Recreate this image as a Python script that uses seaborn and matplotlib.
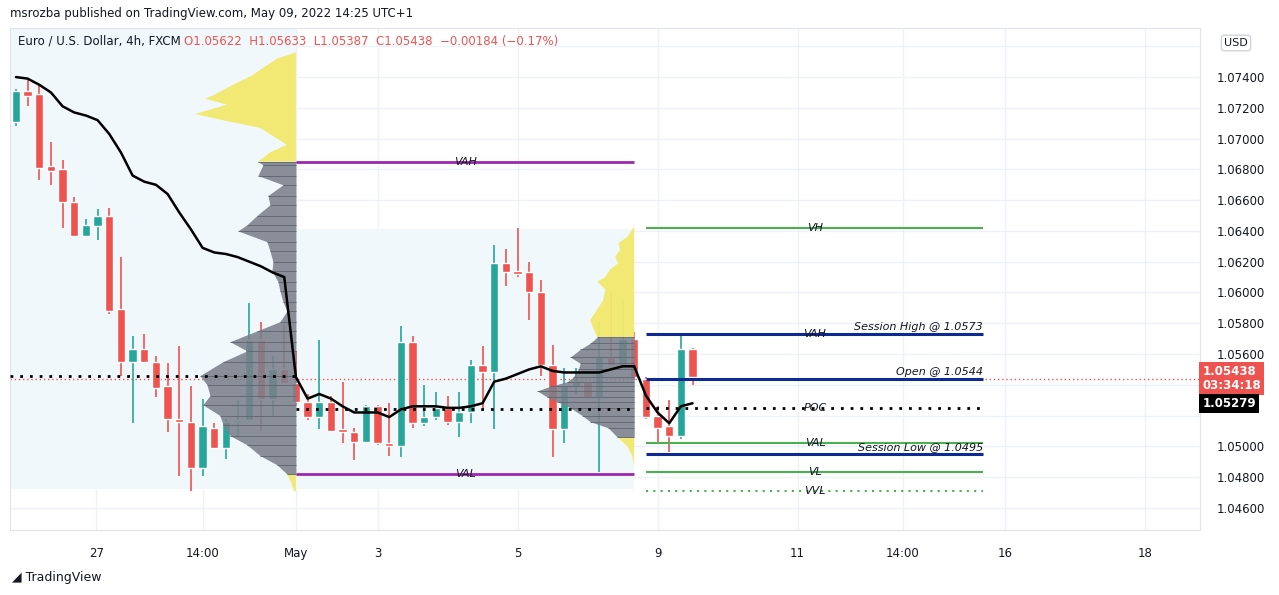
import matplotlib
matplotlib.use("Agg")
import matplotlib.pyplot as plt
import numpy as np
import pandas as pd
import seaborn as sns

# ---- data ----
opens = [1.0711, 1.0731, 1.0729, 1.0682, 1.0680, 1.0659, 1.0637, 1.0643, 1.0650, 1.0589,
         1.0555, 1.0563, 1.0555, 1.0539, 1.0518, 1.0516, 1.0486, 1.0512, 1.0499, 1.0516,
         1.0517, 1.0569, 1.0531, 1.0550, 1.0541, 1.0529, 1.0519, 1.0529, 1.0511, 1.0509,
         1.0503, 1.0526, 1.0502, 1.0500, 1.0568, 1.0515, 1.0519, 1.0525, 1.0516, 1.0522,
         1.0553, 1.0548, 1.0619, 1.0614, 1.0613, 1.0600, 1.0553, 1.0511, 1.0539, 1.0542,
         1.0532, 1.0558, 1.0553, 1.0570, 1.0544, 1.0520, 1.0513, 1.0507, 1.0563]
highs = [1.0732, 1.0739, 1.0735, 1.0698, 1.0686, 1.0662, 1.0648, 1.0654, 1.0655, 1.0623,
         1.0572, 1.0573, 1.0559, 1.0554, 1.0565, 1.0539, 1.0531, 1.0515, 1.0518, 1.0530,
         1.0593, 1.0581, 1.0559, 1.0579, 1.0562, 1.0534, 1.0569, 1.0533, 1.0542, 1.0512,
         1.0527, 1.0527, 1.0528, 1.0578, 1.0572, 1.0540, 1.0535, 1.0533, 1.0535, 1.0556,
         1.0565, 1.0631, 1.0628, 1.0642, 1.0620, 1.0608, 1.0566, 1.0551, 1.0551, 1.0542,
         1.0581, 1.0599, 1.0596, 1.0574, 1.0545, 1.0526, 1.0530, 1.0573, 1.0564]
lows = [1.0708, 1.0721, 1.0673, 1.0670, 1.0642, 1.0636, 1.0636, 1.0634, 1.0586, 1.0546,
        1.0515, 1.0554, 1.0532, 1.0509, 1.0481, 1.0471, 1.0481, 1.0498, 1.0492, 1.0506,
        1.0517, 1.0510, 1.0519, 1.0541, 1.0527, 1.0517, 1.0511, 1.0509, 1.0502, 1.0491,
        1.0502, 1.0501, 1.0494, 1.0493, 1.0512, 1.0513, 1.0517, 1.0514, 1.0506, 1.0515,
        1.0525, 1.0511, 1.0604, 1.0610, 1.0582, 1.0546, 1.0493, 1.0502, 1.0534, 1.0532,
        1.0483, 1.0553, 1.0553, 1.0543, 1.0518, 1.0503, 1.0496, 1.0505, 1.0540]
closes = [1.0731, 1.0728, 1.0681, 1.0679, 1.0659, 1.0637, 1.0644, 1.0650, 1.0588, 1.0555,
          1.0563, 1.0555, 1.0538, 1.0518, 1.0516, 1.0486, 1.0513, 1.0499, 1.0516, 1.0517,
          1.0569, 1.0531, 1.0550, 1.0541, 1.0529, 1.0519, 1.0529, 1.0510, 1.0509, 1.0503,
          1.0526, 1.0502, 1.0500, 1.0568, 1.0515, 1.0519, 1.0525, 1.0516, 1.0522, 1.0553,
          1.0548, 1.0619, 1.0613, 1.0612, 1.0600, 1.0553, 1.0511, 1.0540, 1.0542, 1.0532,
          1.0558, 1.0553, 1.0570, 1.0545, 1.0519, 1.0512, 1.0507, 1.0563, 1.0545]
vwap = [1.0740, 1.0739, 1.0735, 1.0730, 1.0721, 1.0717, 1.0715, 1.0712, 1.0703, 1.0691,
        1.0676, 1.0672, 1.0670, 1.0664, 1.0652, 1.0641, 1.0629, 1.0626, 1.0625, 1.0623,
        1.0620, 1.0617, 1.0613, 1.0610, 1.0545, 1.0531, 1.0534, 1.0531, 1.0526, 1.0522,
        1.0522, 1.0522, 1.0519, 1.0524, 1.0526, 1.0526, 1.0526, 1.0525, 1.0525, 1.0526,
        1.0528, 1.0542, 1.0544, 1.0547, 1.0550, 1.0552, 1.0549, 1.0548, 1.0548, 1.0548,
        1.0548, 1.0550, 1.0552, 1.0552, 1.0533, 1.0522, 1.0515, 1.0526, 1.0528]

prof1_price = [1.0756, 1.0752, 1.0746, 1.0741, 1.0735, 1.0728, 1.0726, 1.0722, 1.0716, 1.0711,
               1.0707, 1.0700, 1.0696, 1.0691, 1.0685, 1.0683, 1.0676, 1.0670, 1.0663, 1.0657,
               1.0650, 1.0644, 1.0640, 1.0633, 1.0627, 1.0620, 1.0614, 1.0607, 1.0601, 1.0594,
               1.0588, 1.0581, 1.0575, 1.0568, 1.0562, 1.0555, 1.0546, 1.0540, 1.0533, 1.0527,
               1.0520, 1.0514, 1.0507, 1.0501, 1.0494, 1.0488, 1.0482, 1.0477, 1.0471]
prof1_vol = [0, 19, 33, 44, 63, 83, 91, 69, 101, 66, 36, 19, 9, 26, 38, 33, 38, 13, 28, 26,
             39, 49, 58, 29, 26, 23, 24, 18, 16, 13, 9, 16, 39, 66, 49, 73, 96, 89, 86, 93,
             76, 73, 66, 49, 36, 19, 9, 5, 2]
prof1_vah, prof1_val = 1.0685, 1.0482

prof2_price = [1.0643, 1.0641, 1.0636, 1.0632, 1.0628, 1.0623, 1.0619, 1.0615, 1.0610, 1.0607,
               1.0602, 1.0595, 1.0589, 1.0582, 1.0578, 1.0571, 1.0567, 1.0563, 1.0558, 1.0554,
               1.0550, 1.0545, 1.0542, 1.0539, 1.0536, 1.0532, 1.0529, 1.0525, 1.0520, 1.0516,
               1.0512, 1.0506, 1.0500, 1.0494, 1.0487]
prof2_vol = [0, 2, 7, 16, 14, 19, 16, 24, 29, 37, 29, 31, 37, 44, 42, 37, 44, 54, 64, 54,
             56, 61, 67, 84, 97, 87, 77, 64, 52, 44, 26, 17, 7, 2, 0]
prof2_vah, prof2_val = 1.0574, 1.0503

poc1, poc2, poc3 = 1.0546, 1.0524, 1.0525
vah3, vh, val3, vl, vvl = 1.0573, 1.0642, 1.0502, 1.0483, 1.0471
sess_high, sess_open, sess_low = 1.0573, 1.0544, 1.0495
last_price = 1.05438

date_labels = ["27", "14:00", "May", "3", "5", "9", "11", "14:00", "16", "18"]
date_pos = [6.9, 16.0, 24.0, 31.0, 43.0, 55.0, 67.0, 76.0, 84.8, 96.8]
price_ticks = [1.046, 1.048, 1.050, 1.052, 1.054, 1.056, 1.058, 1.060, 1.062,
               1.064, 1.066, 1.068, 1.070, 1.072, 1.074, 1.076]

GREEN, RED = "#26a69a", "#ef5350"
YEL, GRAY = "#f2e96c", "#7b808b"
BLUE_BG = "#f0f8fc"

sns.set_style("white")
fig = plt.figure(figsize=(12.79, 5.95), dpi=100)
ax = fig.add_axes([10 / 1279, 65 / 595, 1190 / 1279, 502 / 595])
ax.set_xlim(-0.51, 101.5)
ax.set_ylim(1.04456, 1.07719)

for p in price_ticks:
    ax.axhline(p, color="#eef1f6", lw=1, zorder=0)
for d in date_pos:
    ax.axvline(d, color="#eef1f6", lw=1, zorder=0)

# session backgrounds
ax.fill_between([-0.51, 24.0], 1.0472, 1.07719, color=BLUE_BG, zorder=0.5, lw=0)
ax.fill_between([24.0, 53.0], 1.0472, 1.0641, color=BLUE_BG, zorder=0.5, lw=0)

# candles
df = pd.DataFrame({"o": opens, "h": highs, "l": lows, "c": closes})
df["i"] = np.arange(len(df))
for _, r in df.iterrows():
    col = GREEN if r.c >= r.o else RED
    ax.vlines(r.i, r.l, r.h, color=col, lw=1.2, zorder=2)
    ax.bar(r.i, abs(r.c - r.o) or 0.00006, bottom=min(r.o, r.c), width=0.72,
           color=col, zorder=2)

# volume profiles (right-aligned, width in bars)
def profile(prices, vols, right, maxw, vah, val):
    p = np.array(prices)
    w = np.array(vols) / max(vols) * maxw
    inside = (p >= val) & (p <= vah)
    outside = ~inside
    # extend yellow by one row so both colours meet at the value-area edges
    out_ext = outside | np.r_[outside[1:], False] | np.r_[False, outside[:-1]]
    ax.fill_betweenx(p, right - w, right, where=out_ext, color=YEL, alpha=0.95,
                     lw=0, zorder=3)
    ax.fill_betweenx(p, right - w, right, where=inside, color=GRAY, alpha=0.88,
                     lw=0, zorder=3.05)
    for pp, ww in zip(p[inside], w[inside]):
        ax.hlines(pp, right - ww, right, color="#60646e", lw=0.6, zorder=3.1)

profile(prof1_price, prof1_vol, 24.0, 101 / 11.67, prof1_vah, prof1_val)
profile(prof2_price, prof2_vol, 53.0, 97 / 11.67, prof2_vah, prof2_val)

# vwap line
sns.lineplot(x=np.arange(len(vwap)), y=vwap, color="black", lw=1.8, ax=ax, zorder=4)

# session levels
ax.hlines([prof1_vah, prof1_val], 24.0, 53.0, color="#9c27b0", lw=2, zorder=4)
ax.hlines(poc1, -0.51, 24.0, color="black", lw=2, linestyles=(0, (1, 2.5)), zorder=4)
ax.hlines(poc2, 24.0, 53.0, color="black", lw=2, linestyles=(0, (1, 2.5)), zorder=4)
ax.axhline(last_price, color=RED, lw=1, ls=(0, (1, 2)), zorder=1.5)

x0, x1, xm = 54.0, 82.9, 68.5
ax.hlines([vh, val3, vl], x0, x1, color="#4caf50", lw=1.5, zorder=4)
ax.hlines(vvl, x0, x1, color="#4caf50", lw=1.5, linestyles=(0, (1, 2.5)), zorder=4)
ax.hlines([sess_high, sess_open, sess_low], x0, x1, color="#0d2a94", lw=2.2, zorder=4)
ax.hlines(poc3, x0, x1, color="black", lw=2, linestyles=(0, (1, 2.5)), zorder=4)

lab = dict(fontsize=8, style="italic", color="#131722", ha="center", va="center", zorder=6)
ax.text((24 + 53) / 2, prof1_vah, "VAH", **lab)
ax.text((24 + 53) / 2, prof1_val, "VAL", **lab)
for p, t in [(vh, "VH"), (vah3, "VAH"), (poc3, "POC"), (val3, "VAL"), (vl, "VL"), (vvl, "VVL")]:
    ax.text(xm, p, t, **lab)
lab.update(ha="right", va="bottom")
ax.text(x1, sess_high + 0.0001, "Session High @ 1.0573", **lab)
ax.text(x1, sess_open + 0.0001, "Open @ 1.0544", **lab)
ax.text(x1, sess_low + 0.0001, "Session Low @ 1.0495", **lab)

# axes styling
ax.yaxis.tick_right()
ax.set_yticks(price_ticks)
ax.set_yticklabels(["" if p in (1.052, 1.054, 1.076) else f"{p:.5f}" for p in price_ticks],
                   fontsize=8.5, color="#131722")
ax.set_xticks(date_pos)
ax.set_xticklabels(date_labels, fontsize=8.5, color="#131722")
ax.tick_params(length=0, pad=12)
for s in ax.spines.values():
    s.set_color("#e0e3eb")

# price tags
ax.text(1.002, last_price, "1.05438\n03:34:18", transform=ax.get_yaxis_transform(),
        fontsize=8.5, color="white", weight="bold", va="center", ha="left",
        linespacing=1.1, bbox=dict(boxstyle="square,pad=0.25", fc="#ef5350", ec="none"))
ax.text(1.002, 1.05279, "1.05279", transform=ax.get_yaxis_transform(),
        fontsize=8.5, color="white", weight="bold", va="center", ha="left",
        bbox=dict(boxstyle="square,pad=0.25", fc="black", ec="none"))
fig.text(1236 / 1279, 1 - 43 / 595, "USD", fontsize=8, color="#131722", ha="center",
         va="center", bbox=dict(boxstyle="round,pad=0.25", fc="white", ec="#d1d4dc"))

fig.text(10 / 1279, 1 - 14 / 595, "msrozba published on TradingView.com, May 09, 2022 14:25 UTC+1",
         fontsize=8.5, color="#131722", va="center")
fig.text(18 / 1279, 1 - 41 / 595, "Euro / U.S. Dollar, 4h, FXCM", fontsize=8.5,
         color="#131722", va="center")
fig.text(184 / 1279, 1 - 41 / 595, "O1.05622  H1.05633  L1.05387  C1.05438  \u22120.00184 (\u22120.17%)",
         fontsize=8.5, color=RED, va="center")
fig.text(12 / 1279, 1 - 577 / 595, "\u25e2 TradingView", fontsize=9, color="#131722",
         va="center")

fig.savefig("out.png", dpi=100)
